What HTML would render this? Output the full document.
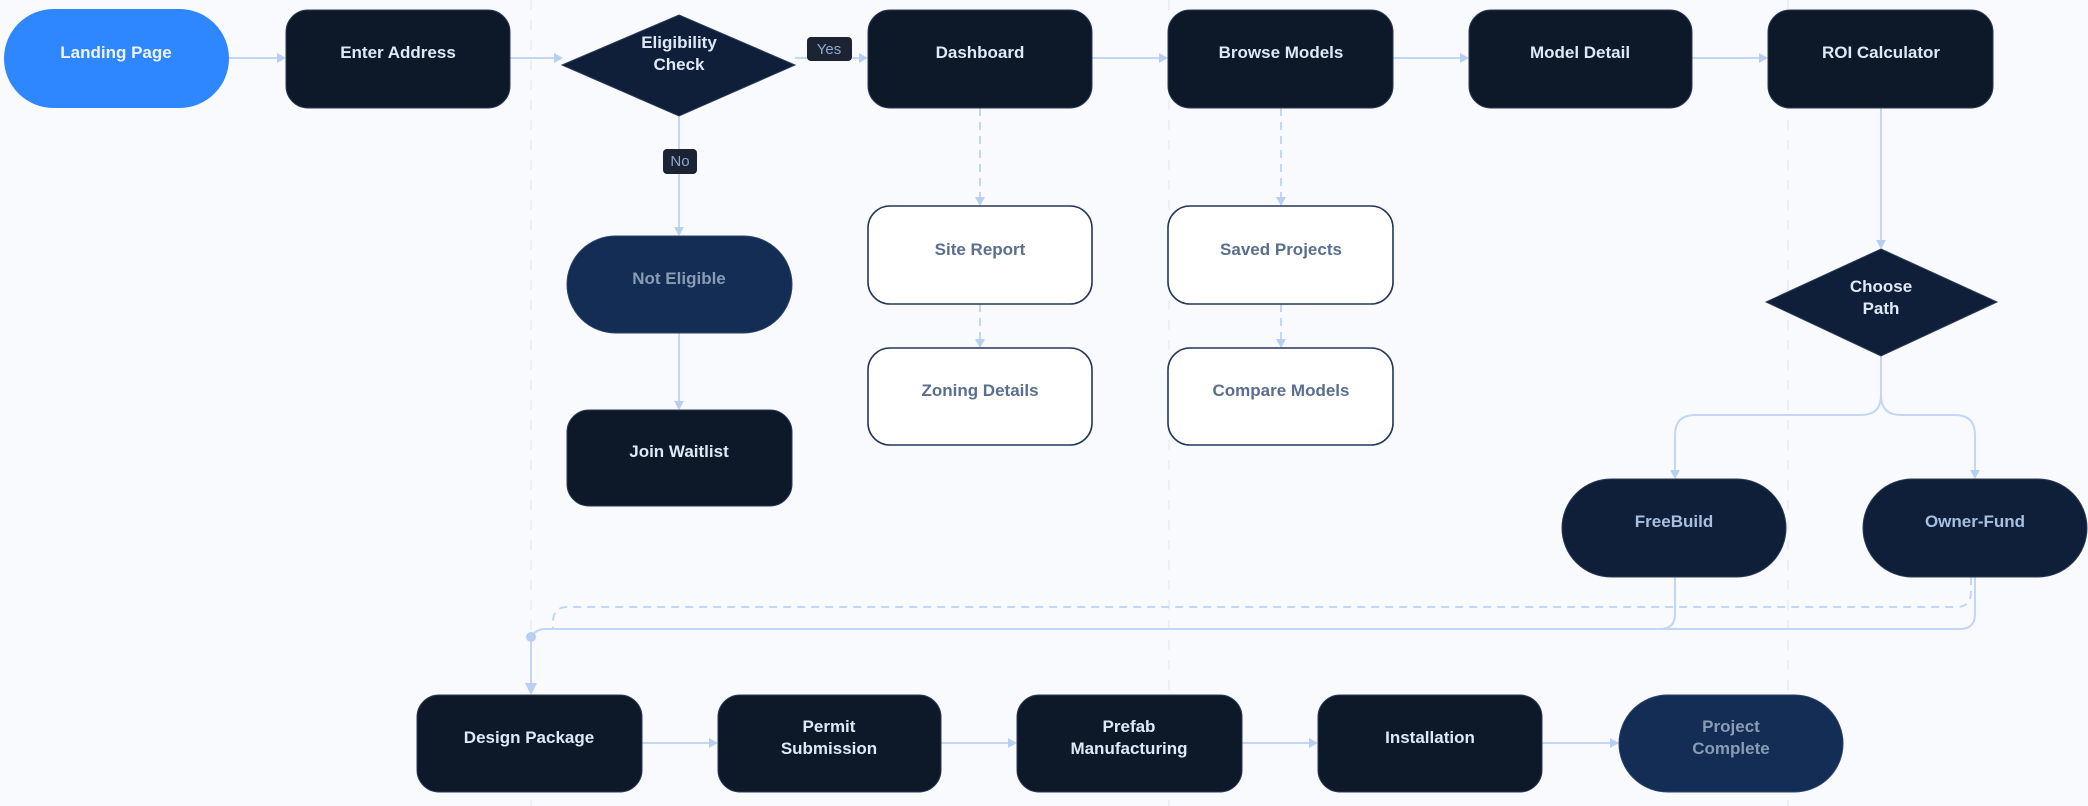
<!DOCTYPE html>
<html><head><meta charset="utf-8"><style>
html,body{margin:0;padding:0;background:#f8fafd;}
svg{display:block}
text{font-family:"Liberation Sans",sans-serif;font-weight:bold;font-size:17px;text-anchor:middle;}
.d{fill:#0d1829;stroke:#2a3a58;stroke-width:1}
.t{fill:#dfe8f5}
.w{fill:#ffffff;stroke:#26365a;stroke-width:1.6}
.tw{fill:#5a6e8f}
.c{stroke:#c3d6f3;stroke-width:2;fill:none}
.cd{stroke:#c3d6f3;stroke-width:2;fill:none;stroke-dasharray:8 6}
.lane{stroke:#e8edf4;stroke-width:1.5;stroke-dasharray:10 10}
.ar{fill:#b9cff2}
</style></head><body>
<svg width="2088" height="806" viewBox="0 0 2088 806" xmlns="http://www.w3.org/2000/svg">
<rect width="2088" height="806" fill="#f8fafd"/>
<line class="lane" x1="531" y1="0" x2="531" y2="806"/>
<line class="lane" x1="1169" y1="0" x2="1169" y2="806"/>
<line class="lane" x1="1788" y1="0" x2="1788" y2="806"/>

<line class="c" x1="229" y1="58" x2="280" y2="58"/><path class="ar" d="M286 58 l-9 -5 v10z"/>
<line class="c" x1="510" y1="58" x2="556" y2="58"/><path class="ar" d="M563 58 l-9 -5 v10z"/>
<line class="c" x1="795" y1="58" x2="862" y2="58"/><path class="ar" d="M868 58 l-9 -5 v10z"/>
<line class="c" x1="1092" y1="58" x2="1162" y2="58"/><path class="ar" d="M1168 58 l-9 -5 v10z"/>
<line class="c" x1="1393" y1="58" x2="1463" y2="58"/><path class="ar" d="M1469 58 l-9 -5 v10z"/>
<line class="c" x1="1692" y1="58" x2="1762" y2="58"/><path class="ar" d="M1768 58 l-9 -5 v10z"/>
<line class="c" x1="679" y1="116" x2="679" y2="230"/><path class="ar" d="M679 236 l-5 -9 h10z"/>
<line class="c" x1="679" y1="333" x2="679" y2="404"/><path class="ar" d="M679 410 l-5 -9 h10z"/>
<line class="cd" x1="980" y1="108" x2="980" y2="200"/><path class="ar" d="M980 206 l-5 -9 h10z"/>
<line class="cd" x1="980" y1="304" x2="980" y2="342"/><path class="ar" d="M980 348 l-5 -9 h10z"/>
<line class="cd" x1="1281" y1="108" x2="1281" y2="200"/><path class="ar" d="M1281 206 l-5 -9 h10z"/>
<line class="cd" x1="1281" y1="304" x2="1281" y2="342"/><path class="ar" d="M1281 348 l-5 -9 h10z"/>
<line class="c" x1="1881" y1="108" x2="1881" y2="243"/><path class="ar" d="M1881 249 l-5 -9 h10z"/>
<path class="c" d="M1881 356 V395 Q1881 415 1861 415 H1695 Q1675 415 1675 435 V473"/><path class="ar" d="M1675 479 l-5 -9 h10z"/>
<path class="c" d="M1881 356 V395 Q1881 415 1901 415 H1955 Q1975 415 1975 435 V473"/><path class="ar" d="M1975 479 l-5 -9 h10z"/>
<path class="c" d="M1675 577 V614 Q1675 629 1660 629 H546 Q531 629 531 644 V689"/>
<path class="c" d="M1975 577 V614 Q1975 629 1960 629 H1660"/>
<path class="cd" d="M1971 577 V592 Q1971 607 1956 607 H568 Q553 607 553 622 V630"/>
<circle cx="531" cy="637" r="5" fill="#b9cff2"/>
<path class="ar" d="M531 695 l-6 -12 h12z"/>
<line class="c" x1="642" y1="743" x2="712" y2="743"/><path class="ar" d="M718 743 l-9 -5 v10z"/>
<line class="c" x1="941" y1="743" x2="1011" y2="743"/><path class="ar" d="M1017 743 l-9 -5 v10z"/>
<line class="c" x1="1242" y1="743" x2="1312" y2="743"/><path class="ar" d="M1318 743 l-9 -5 v10z"/>
<line class="c" x1="1542" y1="743" x2="1613" y2="743"/><path class="ar" d="M1619 743 l-9 -5 v10z"/>

<rect x="4" y="9" width="225" height="99" rx="49.5" fill="#2f87ff"/>
<text x="116" y="58" fill="#eef4ff">Landing Page</text>
<rect class="d" x="286" y="10" width="224" height="98" rx="22"/>
<text class="t" x="398" y="58">Enter Address</text>
<polygon points="679,15 795,65 679,116 562,65" fill="#0f1f3a" stroke="#2a3a58"/>
<text class="t" x="679" y="48">Eligibility</text><text class="t" x="679" y="70">Check</text>
<rect x="807" y="37" width="45" height="24" rx="4" fill="#1c2333"/>
<text x="829" y="54" style="font-size:15px;font-weight:normal;fill:#8fa7cc">Yes</text>
<rect x="663" y="149" width="34" height="25" rx="4" fill="#1c2333"/>
<text x="680" y="166" style="font-size:15px;font-weight:normal;fill:#8fa7cc">No</text>
<rect class="d" x="868" y="10" width="224" height="98" rx="22"/><text class="t" x="980" y="58">Dashboard</text>
<rect class="d" x="1168" y="10" width="225" height="98" rx="22"/><text class="t" x="1281" y="58">Browse Models</text>
<rect class="d" x="1469" y="10" width="223" height="98" rx="22"/><text class="t" x="1580" y="58">Model Detail</text>
<rect class="d" x="1768" y="10" width="225" height="98" rx="22"/><text class="t" x="1881" y="58">ROI Calculator</text>

<rect x="567" y="236" width="225" height="97" rx="48.5" fill="#142d55" stroke="#2a4270"/>
<text x="679" y="284" fill="#8a9bb5">Not Eligible</text>
<rect class="d" x="567" y="410" width="225" height="96" rx="22"/><text class="t" x="679" y="457">Join Waitlist</text>

<rect class="w" x="868" y="206" width="224" height="98" rx="22"/><text class="tw" x="980" y="255">Site Report</text>
<rect class="w" x="868" y="348" width="224" height="97" rx="22"/><text class="tw" x="980" y="396">Zoning Details</text>
<rect class="w" x="1168" y="206" width="225" height="98" rx="22"/><text class="tw" x="1281" y="255">Saved Projects</text>
<rect class="w" x="1168" y="348" width="225" height="97" rx="22"/><text class="tw" x="1281" y="396">Compare Models</text>

<polygon points="1881,249 1997,302 1881,356 1766,302" fill="#0f1f3a" stroke="#2a3a58"/>
<text class="t" x="1881" y="292">Choose</text><text class="t" x="1881" y="314">Path</text>

<rect x="1562" y="479" width="224" height="98" rx="49" fill="#0f1f3a" stroke="#2a3a58"/>
<text x="1674" y="527" fill="#a8bfe0">FreeBuild</text>
<rect x="1863" y="479" width="224" height="98" rx="49" fill="#0f1f3a" stroke="#2a3a58"/>
<text x="1975" y="527" fill="#a8bfe0">Owner-Fund</text>

<rect class="d" x="417" y="695" width="225" height="97" rx="22"/><text class="t" x="529" y="743">Design Package</text>
<rect class="d" x="718" y="695" width="223" height="97" rx="22"/><text class="t" x="829" y="732">Permit</text><text class="t" x="829" y="754">Submission</text>
<rect class="d" x="1017" y="695" width="225" height="97" rx="22"/><text class="t" x="1129" y="732">Prefab</text><text class="t" x="1129" y="754">Manufacturing</text>
<rect class="d" x="1318" y="695" width="224" height="97" rx="22"/><text class="t" x="1430" y="743">Installation</text>
<rect x="1619" y="695" width="224" height="97" rx="48.5" fill="#142d55" stroke="#2a4270"/>
<text x="1731" y="732" fill="#8a9bb5">Project</text><text x="1731" y="754" fill="#8a9bb5">Complete</text>
</svg>
</body></html>
